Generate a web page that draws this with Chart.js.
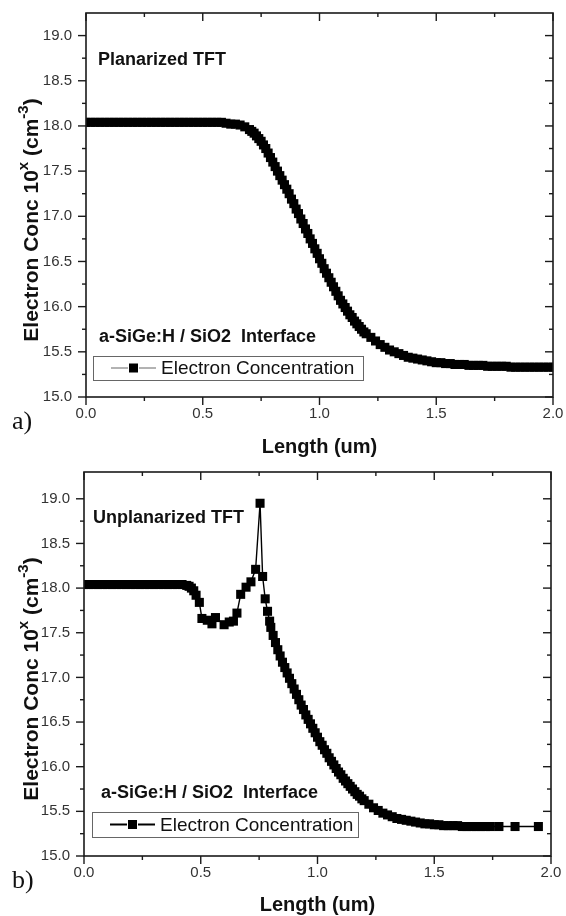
<!DOCTYPE html>
<html>
<head>
<meta charset="utf-8">
<script src="https://cdn.jsdelivr.net/npm/chart.js@4/dist/chart.umd.min.js"></script>
<style>
  body { margin: 0; background: #fff; }
  canvas { display: block; }
</style>
</head>
<body>
<canvas id="chartA" width="566" height="460"></canvas>
<canvas id="chartB" width="566" height="456"></canvas>
<script>
// tick labels
const xTicks = [0.0, 0.5, 1.0, 1.5, 2.0];
const xMinor = [0.25, 0.75, 1.25, 1.75];
const yTicks = [15.0, 15.5, 16.0, 16.5, 17.0, 17.5, 18.0, 18.5, 19.0];
const yMinor = [15.25, 15.75, 16.25, 16.75, 17.25, 17.75, 18.25, 18.75];

// a) planarized TFT - length (um)
const lenA = [0.00,0.02,0.04,0.06,0.08,0.10,0.12,0.14,0.16,0.18,0.20,0.22,0.24,0.26,0.28,0.30,
  0.32,0.34,0.36,0.38,0.40,0.42,0.44,0.46,0.48,0.50,0.52,0.54,0.56,0.58,0.60,0.62,0.64,0.66,0.68,
  0.70,0.71,0.72,0.73,0.74,0.75,0.76,0.77,0.78,0.79,0.80,0.81,0.82,0.83,0.84,0.85,0.86,0.87,0.88,0.89,
  0.90,0.91,0.92,0.93,0.94,0.95,0.96,0.97,0.98,0.99,1.00,1.01,1.02,1.03,1.04,1.05,1.06,1.07,1.08,1.09,
  1.10,1.11,1.12,1.13,1.14,1.15,1.16,1.17,1.18,1.19,1.20,
  1.22,1.24,1.26,1.28,1.30,1.32,1.34,1.36,1.38,1.40,1.42,1.44,1.46,1.48,1.50,1.52,1.54,1.56,1.58,1.60,
  1.62,1.64,1.66,1.68,1.70,1.72,1.74,1.76,1.78,1.80,1.82,1.84,1.86,1.88,1.90,1.92,1.94,1.96,1.98,2.00];
// a) electron concentration (log10 cm^-3)
const concA = [18.04,18.04,18.04,18.04,18.04,18.04,18.04,18.04,18.04,18.04,18.04,18.04,18.04,18.04,18.04,18.04,
  18.04,18.04,18.04,18.04,18.04,18.04,18.04,18.04,18.04,18.04,18.04,18.04,18.04,18.04,18.03,18.02,18.02,18.01,17.99,
  17.96,17.94,17.92,17.89,17.86,17.83,17.79,17.75,17.70,17.65,17.60,17.55,17.50,17.45,17.40,17.35,17.30,17.25,17.19,17.14,
  17.08,17.03,16.97,16.92,16.86,16.81,16.75,16.70,16.64,16.59,16.53,16.48,16.42,16.37,16.32,16.27,16.22,16.17,16.12,16.07,
  16.03,15.99,15.95,15.91,15.88,15.84,15.81,15.78,15.75,15.72,15.70,
  15.66,15.62,15.58,15.55,15.52,15.50,15.48,15.46,15.44,15.43,15.42,15.41,15.40,15.39,15.38,15.38,15.37,15.37,15.36,15.36,
  15.36,15.35,15.35,15.35,15.35,15.34,15.34,15.34,15.34,15.34,15.33,15.33,15.33,15.33,15.33,15.33,15.33,15.33,15.33,15.33];

// b) unplanarized TFT - length (um)
const lenB = [0.00,0.02,0.04,0.06,0.08,0.10,0.12,0.14,0.16,0.18,0.20,0.22,0.24,0.26,0.28,0.30,
  0.32,0.34,0.36,0.38,0.40,0.42,0.44,0.45,0.46,0.47,0.48,
  0.494,0.505,0.528,0.548,0.563,0.600,0.622,0.640,0.655,0.671,0.694,0.715,0.735,0.754,0.765,0.776,0.786,0.795,
  0.80,0.81,0.82,0.83,0.84,0.85,0.86,0.87,0.88,0.89,0.90,0.91,0.92,0.93,0.94,0.95,0.96,0.97,0.98,0.99,
  1.00,1.01,1.02,1.03,1.04,1.05,1.06,1.07,1.08,1.09,1.10,1.11,1.12,1.13,1.14,1.15,1.16,1.17,1.18,1.19,1.20,
  1.22,1.24,1.26,1.28,1.30,1.32,1.34,1.36,1.38,1.40,1.42,1.44,1.46,1.48,1.50,1.52,1.54,1.56,1.58,1.60,
  1.62,1.64,1.66,1.68,1.70,1.72,1.74,1.777,1.846,1.946];
// b) electron concentration (log10 cm^-3)
const concB = [18.04,18.04,18.04,18.04,18.04,18.04,18.04,18.04,18.04,18.04,18.04,18.04,18.04,18.04,18.04,18.04,
  18.04,18.04,18.04,18.04,18.04,18.04,18.03,18.02,18.00,17.97,17.92,
  17.84,17.66,17.64,17.60,17.67,17.59,17.62,17.63,17.72,17.93,18.01,18.07,18.21,18.95,18.13,17.88,17.74,17.63,
  17.56,17.47,17.39,17.31,17.24,17.17,17.11,17.05,16.99,16.93,16.87,16.81,16.75,16.69,16.64,16.58,16.53,16.48,16.43,16.38,
  16.33,16.28,16.24,16.19,16.15,16.10,16.06,16.02,15.98,15.94,15.91,15.87,15.84,15.81,15.78,15.75,15.72,15.69,15.67,15.64,15.62,
  15.58,15.54,15.51,15.48,15.46,15.44,15.42,15.41,15.40,15.39,15.38,15.37,15.36,15.36,15.35,15.35,15.34,15.34,15.34,15.34,
  15.33,15.33,15.33,15.33,15.33,15.33,15.33,15.33,15.33,15.33];

const FONT = 'Arial, "Liberation Sans", sans-serif';

// frame, ticks and the text drawn on top of the plot
const decor = {
  id: 'decor',
  afterDraw(chart, args, o) {
    const { ctx, chartArea: a, scales: { x, y } } = chart;
    ctx.save();
    ctx.strokeStyle = '#1a1a1a';
    ctx.lineWidth = 1.6;
    ctx.strokeRect(a.left, a.top, a.right - a.left, a.bottom - a.top);
    ctx.lineWidth = 1.4;
    const tick = (x1, y1, x2, y2) => { ctx.beginPath(); ctx.moveTo(x1, y1); ctx.lineTo(x2, y2); ctx.stroke(); };
    xTicks.forEach(v => { const px = x.getPixelForValue(v); tick(px, a.bottom, px, a.bottom + 8); tick(px, a.top, px, a.top + 8); });
    xMinor.forEach(v => { const px = x.getPixelForValue(v); tick(px, a.bottom, px, a.bottom + 4); tick(px, a.top, px, a.top + 4); });
    yTicks.forEach(v => { const py = y.getPixelForValue(v); tick(a.left - 8, py, a.left, py); tick(a.right - 8, py, a.right, py); });
    yMinor.forEach(v => { const py = y.getPixelForValue(v); tick(a.left - 4, py, a.left, py); tick(a.right - 4, py, a.right, py); });

    // y axis title with superscripts
    ctx.fillStyle = '#111';
    ctx.textBaseline = 'alphabetic';
    ctx.textAlign = 'left';
    const parts = [
      ['Electron Conc 10', 'bold 21px ' + FONT, 0],
      ['x', 'bold 15px ' + FONT, 10],
      [' (cm', 'bold 21px ' + FONT, 0],
      ['-3', 'bold 15px ' + FONT, 10],
      [')', 'bold 21px ' + FONT, 0]
    ];
    let total = 0;
    parts.forEach(p => { ctx.font = p[1]; total += ctx.measureText(p[0]).width; });
    ctx.save();
    ctx.translate(o.yTitleX, o.yTitleY);
    ctx.rotate(-Math.PI / 2);
    let cx = -total / 2;
    parts.forEach(p => { ctx.font = p[1]; ctx.fillText(p[0], cx, -p[2]); cx += ctx.measureText(p[0]).width; });
    ctx.restore();

    // x axis title
    ctx.font = 'bold 20px ' + FONT;
    ctx.textAlign = 'center';
    ctx.textBaseline = 'middle';
    ctx.fillText('Length (um)', (a.left + a.right) / 2, o.xTitleY);

    // panel letter
    ctx.font = '26px "Liberation Serif", "Times New Roman", serif';
    ctx.textAlign = 'left';
    ctx.fillText(o.panel, 12, o.panelY);

    // annotations
    ctx.font = 'bold 18px ' + FONT;
    ctx.fillText(o.device, o.deviceX, o.deviceY);
    ctx.fillText('a-SiGe:H / SiO2  Interface', o.ifaceX, o.ifaceY);

    // legend
    const lg = o.legend;
    ctx.strokeStyle = '#666';
    ctx.lineWidth = 1;
    ctx.strokeRect(lg.x + 0.5, lg.y + 0.5, lg.w, lg.h);
    const my = lg.y + lg.h / 2;
    ctx.strokeStyle = lg.lc;
    ctx.lineWidth = lg.lw;
    tick(lg.x + 18, my, lg.x + 35, my);
    tick(lg.x + 46, my, lg.x + 63, my);
    ctx.fillStyle = '#000';
    ctx.fillRect(lg.x + 36, my - 4.5, 9, 9);
    ctx.fillStyle = '#111';
    ctx.font = '19px ' + FONT;
    ctx.fillText('Electron Concentration', lg.x + 68, my + 1);
    ctx.restore();
  }
};

function makeChart(id, len, conc, yMax, pad, xHeight, deco) {
  return new Chart(document.getElementById(id), {
    type: 'line',
    data: {
      datasets: [{
        label: 'Electron Concentration',
        data: len.map((v, i) => ({ x: v, y: conc[i] })),
        borderColor: '#000',
        borderWidth: 1.4,
        pointStyle: 'rect',
        pointRadius: 6.4,
        pointBackgroundColor: '#000',
        pointBorderWidth: 0,
        tension: 0
      }]
    },
    options: {
      responsive: false,
      animation: false,
      layout: { padding: pad },
      plugins: { legend: { display: false }, tooltip: { enabled: false }, decor: deco },
      scales: {
        x: {
          type: 'linear', min: 0, max: 2,
          afterBuildTicks: s => { s.ticks = xTicks.map(v => ({ value: v })); },
          afterFit: s => { s.height = xHeight; s.paddingLeft = 0; s.paddingRight = 0; },
          ticks: { callback: v => v.toFixed(1), color: '#333', font: { family: FONT, size: 15 }, padding: 8, maxRotation: 0 },
          grid: { display: false, drawTicks: false },
          border: { display: false }
        },
        y: {
          type: 'linear', min: 15, max: yMax,
          afterBuildTicks: s => { s.ticks = yTicks.map(v => ({ value: v })); },
          afterFit: s => { s.width = deco.left; s.paddingTop = 0; s.paddingBottom = 0; },
          ticks: { callback: v => v.toFixed(1), color: '#333', font: { family: FONT, size: 15 }, padding: 14 },
          grid: { display: false, drawTicks: false },
          border: { display: false }
        }
      }
    },
    plugins: [decor]
  });
}

makeChart('chartA', lenA, concA, 19.25, { left: 0, right: 13, top: 13, bottom: 0 }, 63, {
  left: 86, yTitleX: 38, yTitleY: 220, xTitleY: 447, panel: 'a)', panelY: 422,
  device: 'Planarized TFT', deviceX: 98, deviceY: 60, ifaceX: 99, ifaceY: 337,
  legend: { x: 93, y: 356, w: 270, h: 24, lw: 1, lc: '#666' }
});
makeChart('chartB', lenB, concB, 19.3, { left: 0, right: 15, top: 12, bottom: 0 }, 60, {
  left: 84, yTitleX: 38, yTitleY: 219, xTitleY: 445, panel: 'b)', panelY: 421,
  device: 'Unplanarized TFT', deviceX: 93, deviceY: 58, ifaceX: 101, ifaceY: 333,
  legend: { x: 92, y: 352, w: 266, h: 25, lw: 2, lc: '#000' }
});
</script>
</body>
</html>
